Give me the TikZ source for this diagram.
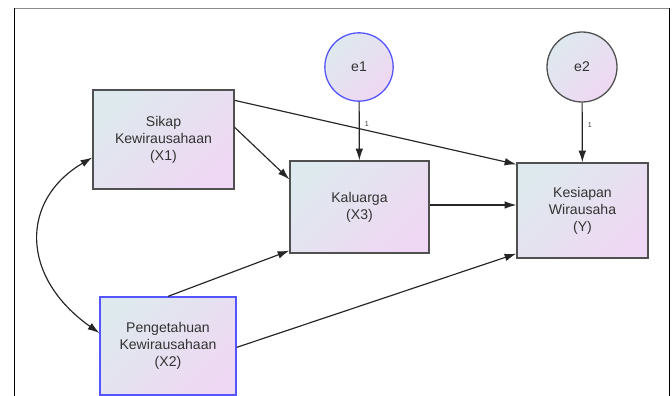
\documentclass[tikz,border=0pt]{standalone}
\usepackage{fontspec}
\setmainfont{Liberation Sans}
\usetikzlibrary{positioning}
\usetikzlibrary{arrows.meta}
\usetikzlibrary{calc}

\definecolor{boxL}{RGB}{222,233,238}
\definecolor{boxR}{RGB}{239,216,243}
\definecolor{rimgray}{RGB}{80,80,80}
\definecolor{rimblue}{RGB}{85,85,255}

\begin{document}
\begin{tikzpicture}[x=0.03cm, y=-0.03cm,
    var/.style={draw=rimgray, line width=1.1pt, rectangle, align=center,
      left color=boxL, right color=boxR, shading angle=45,
      text=black!80, font=\fontsize{12}{14.5}\selectfont},
    err/.style={draw=rimgray, line width=1.1pt, circle, minimum size=2.05cm,
      left color=boxL, right color=boxR, shading angle=45,
      text=black!80, font=\fontsize{12}{14.5}\selectfont},
    path/.style={line width=1pt, draw=black!85, -{Latex[length=10pt,width=6.5pt]}},
    one/.style={font=\fontsize{6}{7}\selectfont, text=black!80}]
    \useasboundingbox (0,0) rectangle (672,396);

    % frame
    \draw[black!45, line width=0.8pt] (14,8) -- (669,8);
    \draw[black, line width=0.8pt] (14,8) -- (14,396);
    \draw[black, line width=0.8pt] (669,8) -- (669,396);

    \node[var, minimum width=4.23cm, minimum height=2.97cm] (x1) at (163.5,139.5)
      {Sikap\\Kewirausahaan\\(X1)};
    \node[var, draw=rimblue, minimum width=4.08cm, minimum height=2.94cm] (x2) at (168,346)
      {Pengetahuan\\Kewirausahaan\\(X2)};
    \node[var, minimum width=4.17cm, minimum height=2.76cm] (x3) at (359.5,207)
      {Kaluarga\\(X3)};
    \node[var, minimum width=3.93cm, minimum height=2.85cm] (y) at (582.5,210.5)
      {Kesiapan\\Wirausaha\\(Y)};
    \node[err, draw=rimblue] (e1) at (359,67) {e1};
    \node[err, minimum size=2.1cm] (e2) at (582,67) {e2};

    \draw[path] ([shift={(0,11)}]x1.north east) -- ([shift={(0,2)}]y.north west);
    \draw[path] ([shift={(0,38)}]x1.north east) -- ([shift={(0,19)}]x3.north west);
    \draw[path] (x2.north) -- ([shift={(0,-3)}]x3.south west);
    \draw[path] ([shift={(0,51)}]x2.north east) -- ([shift={(0,-5)}]y.south west);
    \draw[path] ([shift={(0,-2)}]x3.east) -- ([shift={(0,-2)}]x3.east -| y.west);
    \draw[path] (e1) -- node[one, pos=0.38, right=1pt] {1} (x3);
    \draw[path] (e2) -- node[one, pos=0.38, right=1pt] {1} (y);

    \draw[line width=1pt, draw=black!85, {Latex[length=10pt,width=6.5pt]}-{Latex[length=10pt,width=6.5pt]}]
      ([shift={(0,18)}]x1.west) .. controls (20,200) and (20,277) .. ([shift={(0,-13)}]x2.west);

  \end{tikzpicture}
\end{document}
